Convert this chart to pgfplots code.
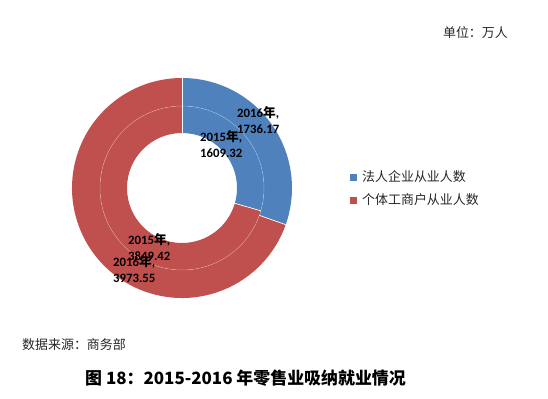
\documentclass[border=0pt]{standalone}
\usepackage{pgfplots}
\pgfplotsset{compat=1.18}
\usepackage{pgfplotstable}
\usepackage{fontspec}
\setmainfont{Carlito}
\newfontfamily\cjk{Noto Sans CJK SC}
\definecolor{cblue}{HTML}{4F81BD}
\definecolor{cred}{HTML}{C0504D}
\pgfplotstableread{
year corp indiv
2015 1609.32 3849.42
2016 1736.17 3973.55
}\datatable
\newcommand\ringseg[5]{%
  \fill[#1] ([shift={(#2:#5)}]axis cs:0,0) arc[start angle=#2, end angle=#3, radius=#5]
    -- ([shift={(#3:#4)}]axis cs:0,0) arc[start angle=#3, end angle=#2, radius=#4] -- cycle;}
\begin{document}
\begin{tikzpicture}[x=1bp,y=1bp]
\useasboundingbox (0,0) rectangle (548,398);
\pgfplotstablegetelem{0}{corp}\of\datatable \let\aA\pgfplotsretval
\pgfplotstablegetelem{0}{indiv}\of\datatable \let\aB\pgfplotsretval
\pgfplotstablegetelem{1}{corp}\of\datatable \let\bA\pgfplotsretval
\pgfplotstablegetelem{1}{indiv}\of\datatable \let\bB\pgfplotsretval
\pgfmathsetmacro\fracIn{\aA/(\aA+\aB)}
\pgfmathsetmacro\fracOut{\bA/(\bA+\bB)}
\pgfmathsetmacro\endIn{90-360*\fracIn}
\pgfmathsetmacro\endOut{90-360*\fracOut}
\begin{axis}[at={(182bp,210bp)}, anchor=origin, scale only axis, width=220bp, height=220bp,
  xmin=-1, xmax=1, ymin=-1, ymax=1, hide axis, clip=false]
\ringseg{cblue}{90}{\endOut}{82bp}{110bp}
\ringseg{cred}{\endOut}{-270}{82bp}{110bp}
\ringseg{cblue}{90}{\endIn}{55bp}{82bp}
\ringseg{cred}{\endIn}{-270}{55bp}{82bp}
\draw[white, line width=0.5pt, opacity=0.35] (axis cs:0,0) circle[radius=82bp];
\draw[white, line width=0.7pt] ([shift={(90:55bp)}]axis cs:0,0) -- ([shift={(90:110bp)}]axis cs:0,0);
\draw[white, line width=0.7pt] ([shift={(\endOut:82bp)}]axis cs:0,0) -- ([shift={(\endOut:110bp)}]axis cs:0,0);
\draw[white, line width=0.7pt] ([shift={(\endIn:55bp)}]axis cs:0,0) -- ([shift={(\endIn:82bp)}]axis cs:0,0);
\end{axis}
\tikzset{lbl/.style={anchor=west, align=left, inner sep=0pt, font=\bfseries\fontsize{12.8}{15.5}\selectfont}}
\node[lbl] at (237,278) {2016{\cjk\bfseries 年},\\1736.17};
\node[lbl] at (200,254) {2015{\cjk\bfseries 年},\\1609.32};
\node[lbl] at (128,151) {2015{\cjk\bfseries 年},\\3849.42};
\node[lbl] at (113,129) {2016{\cjk\bfseries 年},\\3973.55};
% legend
\fill[cblue] (349.5,217.5) rectangle +(7,7);
\fill[cred] (349.5,194.5) rectangle +(7,7);
\node[anchor=west, inner sep=0pt, font=\cjk\fontsize{13}{15}\selectfont, text=black!85] at (362,221) {法人企业从业人数};
\node[anchor=west, inner sep=0pt, font=\cjk\fontsize{13}{15}\selectfont, text=black!85] at (362,198) {个体工商户从业人数};
% texts
\node[anchor=east, inner sep=0pt, font=\cjk\fontsize{13}{15}\selectfont, text=black!85] at (508,365) {单位：万人};
\node[anchor=west, inner sep=0pt, font=\cjk\fontsize{13}{15}\selectfont, text=black!85] at (22,53) {数据来源：商务部};
\node[anchor=center, inner sep=0pt, font=\cjk\bfseries\fontsize{17}{20}\selectfont] at (245.5,20) {图 18：2015-2016 年零售业吸纳就业情况};
\end{tikzpicture}
\end{document}
